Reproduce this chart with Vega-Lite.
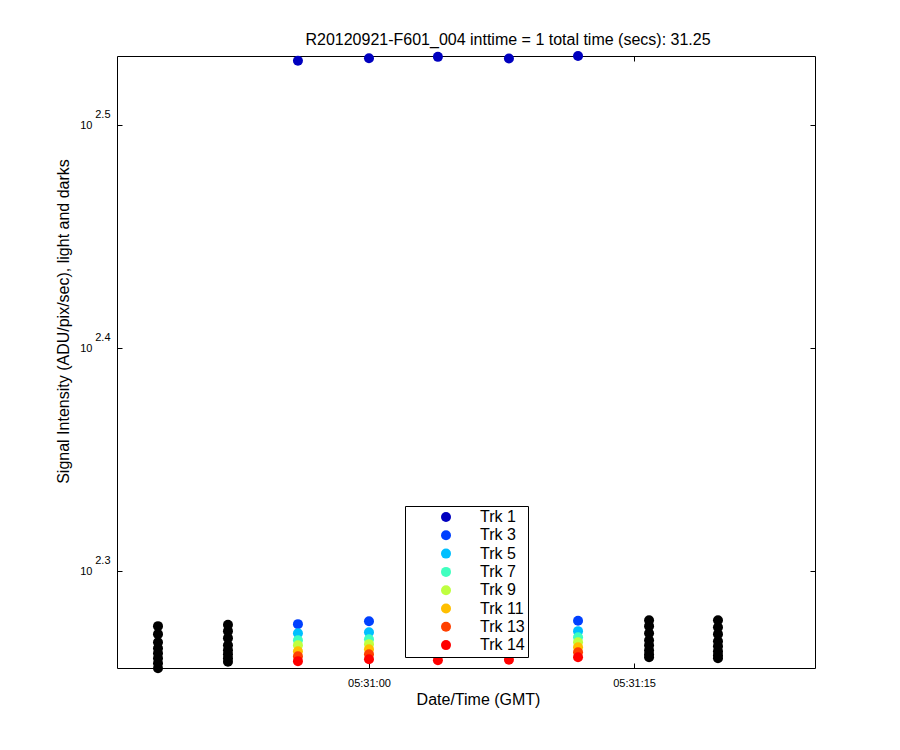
{
  "$schema": "https://vega.github.io/schema/vega-lite/v6.json",
  "width": 698,
  "height": 612,
  "autosize": {"type": "none"},
  "padding": {"left": 117, "top": 56, "right": 85, "bottom": 82},
  "background": "white",
  "config": {
    "font": "Liberation Sans",
    "view": {"stroke": "black", "strokeWidth": 1},
    "axis": {"grid": false, "domain": false, "tickColor": "black", "labelColor": "black", "titleColor": "black", "titleFontWeight": "normal"}
  },
  "title": {
    "text": "R20120921-F601_004 inttime = 1 total time (secs): 31.25",
    "fontSize": 16,
    "fontWeight": "normal",
    "font": "Liberation Sans",
    "color": "black",
    "anchor": "middle",
    "dx": 42,
    "offset": 3
  },
  "data": {
    "values": [
      {"time": "2012-09-21T05:30:48.060Z", "series": "Dark", "signal": 188.52},
      {"time": "2012-09-21T05:30:48.060Z", "series": "Dark", "signal": 186.97},
      {"time": "2012-09-21T05:30:48.060Z", "series": "Dark", "signal": 185.43},
      {"time": "2012-09-21T05:30:48.060Z", "series": "Dark", "signal": 184.28},
      {"time": "2012-09-21T05:30:48.060Z", "series": "Dark", "signal": 183.33},
      {"time": "2012-09-21T05:30:48.060Z", "series": "Dark", "signal": 182.39},
      {"time": "2012-09-21T05:30:48.060Z", "series": "Dark", "signal": 181.45},
      {"time": "2012-09-21T05:30:48.060Z", "series": "Dark", "signal": 180.52},
      {"time": "2012-09-21T05:30:52.020Z", "series": "Dark", "signal": 188.81},
      {"time": "2012-09-21T05:30:52.020Z", "series": "Dark", "signal": 187.55},
      {"time": "2012-09-21T05:30:52.020Z", "series": "Dark", "signal": 186.2},
      {"time": "2012-09-21T05:30:52.020Z", "series": "Dark", "signal": 184.85},
      {"time": "2012-09-21T05:30:52.020Z", "series": "Dark", "signal": 183.9},
      {"time": "2012-09-21T05:30:52.020Z", "series": "Dark", "signal": 183.14},
      {"time": "2012-09-21T05:30:52.020Z", "series": "Dark", "signal": 182.39},
      {"time": "2012-09-21T05:30:52.020Z", "series": "Dark", "signal": 181.73},
      {"time": "2012-09-21T05:30:55.980Z", "series": "Trk 1", "signal": 337.97},
      {"time": "2012-09-21T05:30:55.980Z", "series": "Trk 3", "signal": 188.91},
      {"time": "2012-09-21T05:30:55.980Z", "series": "Trk 5", "signal": 187.16},
      {"time": "2012-09-21T05:30:55.980Z", "series": "Trk 7", "signal": 185.81},
      {"time": "2012-09-21T05:30:55.980Z", "series": "Trk 9", "signal": 184.85},
      {"time": "2012-09-21T05:30:55.980Z", "series": "Trk 11", "signal": 183.71},
      {"time": "2012-09-21T05:30:55.980Z", "series": "Trk 13", "signal": 182.77},
      {"time": "2012-09-21T05:30:55.980Z", "series": "Trk 14", "signal": 181.83},
      {"time": "2012-09-21T05:31:00.000Z", "series": "Trk 1", "signal": 338.8},
      {"time": "2012-09-21T05:31:00.000Z", "series": "Trk 3", "signal": 189.49},
      {"time": "2012-09-21T05:31:00.000Z", "series": "Trk 5", "signal": 187.35},
      {"time": "2012-09-21T05:31:00.000Z", "series": "Trk 7", "signal": 186.0},
      {"time": "2012-09-21T05:31:00.000Z", "series": "Trk 9", "signal": 185.05},
      {"time": "2012-09-21T05:31:00.000Z", "series": "Trk 11", "signal": 184.09},
      {"time": "2012-09-21T05:31:00.000Z", "series": "Trk 13", "signal": 183.14},
      {"time": "2012-09-21T05:31:00.000Z", "series": "Trk 14", "signal": 182.2},
      {"time": "2012-09-21T05:31:03.900Z", "series": "Trk 1", "signal": 339.3},
      {"time": "2012-09-21T05:31:03.900Z", "series": "Trk 3", "signal": 189.49},
      {"time": "2012-09-21T05:31:03.900Z", "series": "Trk 5", "signal": 187.35},
      {"time": "2012-09-21T05:31:03.900Z", "series": "Trk 7", "signal": 186.0},
      {"time": "2012-09-21T05:31:03.900Z", "series": "Trk 9", "signal": 185.05},
      {"time": "2012-09-21T05:31:03.900Z", "series": "Trk 11", "signal": 184.09},
      {"time": "2012-09-21T05:31:03.900Z", "series": "Trk 13", "signal": 183.14},
      {"time": "2012-09-21T05:31:03.900Z", "series": "Trk 14", "signal": 182.01},
      {"time": "2012-09-21T05:31:07.920Z", "series": "Trk 1", "signal": 338.7},
      {"time": "2012-09-21T05:31:07.920Z", "series": "Trk 3", "signal": 189.49},
      {"time": "2012-09-21T05:31:07.920Z", "series": "Trk 5", "signal": 187.35},
      {"time": "2012-09-21T05:31:07.920Z", "series": "Trk 7", "signal": 186.0},
      {"time": "2012-09-21T05:31:07.920Z", "series": "Trk 9", "signal": 185.05},
      {"time": "2012-09-21T05:31:07.920Z", "series": "Trk 11", "signal": 184.09},
      {"time": "2012-09-21T05:31:07.920Z", "series": "Trk 13", "signal": 183.14},
      {"time": "2012-09-21T05:31:07.920Z", "series": "Trk 14", "signal": 182.1},
      {"time": "2012-09-21T05:31:11.830Z", "series": "Trk 1", "signal": 339.6},
      {"time": "2012-09-21T05:31:11.830Z", "series": "Trk 3", "signal": 189.59},
      {"time": "2012-09-21T05:31:11.830Z", "series": "Trk 5", "signal": 187.55},
      {"time": "2012-09-21T05:31:11.830Z", "series": "Trk 7", "signal": 186.39},
      {"time": "2012-09-21T05:31:11.830Z", "series": "Trk 9", "signal": 185.43},
      {"time": "2012-09-21T05:31:11.830Z", "series": "Trk 11", "signal": 184.47},
      {"time": "2012-09-21T05:31:11.830Z", "series": "Trk 13", "signal": 183.52},
      {"time": "2012-09-21T05:31:11.830Z", "series": "Trk 14", "signal": 182.58},
      {"time": "2012-09-21T05:31:15.850Z", "series": "Dark", "signal": 189.69},
      {"time": "2012-09-21T05:31:15.850Z", "series": "Dark", "signal": 188.52},
      {"time": "2012-09-21T05:31:15.850Z", "series": "Dark", "signal": 187.16},
      {"time": "2012-09-21T05:31:15.850Z", "series": "Dark", "signal": 185.81},
      {"time": "2012-09-21T05:31:15.850Z", "series": "Dark", "signal": 184.85},
      {"time": "2012-09-21T05:31:15.850Z", "series": "Dark", "signal": 183.9},
      {"time": "2012-09-21T05:31:15.850Z", "series": "Dark", "signal": 183.14},
      {"time": "2012-09-21T05:31:15.850Z", "series": "Dark", "signal": 182.58},
      {"time": "2012-09-21T05:31:19.750Z", "series": "Dark", "signal": 189.69},
      {"time": "2012-09-21T05:31:19.750Z", "series": "Dark", "signal": 188.32},
      {"time": "2012-09-21T05:31:19.750Z", "series": "Dark", "signal": 186.97},
      {"time": "2012-09-21T05:31:19.750Z", "series": "Dark", "signal": 185.62},
      {"time": "2012-09-21T05:31:19.750Z", "series": "Dark", "signal": 184.66},
      {"time": "2012-09-21T05:31:19.750Z", "series": "Dark", "signal": 183.71},
      {"time": "2012-09-21T05:31:19.750Z", "series": "Dark", "signal": 182.96},
      {"time": "2012-09-21T05:31:19.750Z", "series": "Dark", "signal": 182.39}
    ]
  },
  "resolve": {"axis": {"x": "independent", "y": "independent"}},
  "layer": [
    {
      "mark": {"type": "circle", "size": 100, "opacity": 1},
      "encoding": {
        "x": {
          "field": "time", "type": "temporal",
          "scale": {"type": "utc", "domain": [
            {"year": 2012, "month": 9, "date": 21, "hours": 5, "minutes": 30, "seconds": 45, "milliseconds": 740, "utc": true},
            {"year": 2012, "month": 9, "date": 21, "hours": 5, "minutes": 31, "seconds": 25, "milliseconds": 240, "utc": true}
          ]},
          "axis": {
            "orient": "bottom",
            "values": [
              {"year": 2012, "month": 9, "date": 21, "hours": 5, "minutes": 31, "seconds": 0, "utc": true},
              {"year": 2012, "month": 9, "date": 21, "hours": 5, "minutes": 31, "seconds": 15, "utc": true}
            ],
            "labelExpr": "utcFormat(datum.value, '%H:%M:%S')",
            "tickSize": -5,
            "labelPadding": 14,
            "labelFontSize": 11,
            "labelAngle": 0,
            "title": "Date/Time (GMT)",
            "titleFontSize": 16,
            "titleBaseline": "middle",
            "titleX": 361,
            "titleY": 31
          }
        },
        "y": {
          "field": "signal", "type": "quantitative",
          "scale": {"type": "log", "domain": [180.55, 339.6], "nice": false, "zero": false},
          "axis": {
            "orient": "left",
            "values": [199.526, 251.189, 316.228],
            "labelExpr": "'10'",
            "tickSize": -5,
            "labelPadding": 30,
            "labelFontSize": 11,
            "labelBaseline": "middle",
            "title": "Signal Intensity (ADU/pix/sec), light and darks",
            "titleFontSize": 16,
            "titleBaseline": "middle",
            "titleX": -54,
            "titleY": 265
          }
        },
        "color": {
          "field": "series", "type": "nominal",
          "scale": {
            "domain": ["Trk 1", "Trk 3", "Trk 5", "Trk 7", "Trk 9", "Trk 11", "Trk 13", "Trk 14", "Dark"],
            "range": ["#0000BF", "#0040FF", "#00BFFF", "#40FFBF", "#BFFF40", "#FFBF00", "#FF4000", "#FF0000", "#000000"]
          },
          "legend": {
            "values": ["Trk 1", "Trk 3", "Trk 5", "Trk 7", "Trk 9", "Trk 11", "Trk 13", "Trk 14"],
            "title": null,
            "orient": "none",
            "legendX": 288,
            "legendY": 450,
            "fillColor": "white",
            "strokeColor": "black",
            "padding": 3,
            "symbolType": "circle",
            "symbolSize": 100,
            "symbolStrokeWidth": 0,
            "symbolOpacity": 1,
            "symbolOffset": 30,
            "labelOffset": 26,
            "labelFontSize": 16,
            "labelColor": "black",
            "rowPadding": 2.3
          }
        }
      }
    },
    {
      "mark": {"type": "circle", "size": 100, "opacity": 0},
      "encoding": {
        "x": {
          "field": "time", "type": "temporal",
          "axis": {
            "orient": "top",
            "values": [
              {"year": 2012, "month": 9, "date": 21, "hours": 5, "minutes": 31, "seconds": 0, "utc": true},
              {"year": 2012, "month": 9, "date": 21, "hours": 5, "minutes": 31, "seconds": 15, "utc": true}
            ],
            "labels": false,
            "tickSize": -5,
            "title": null
          }
        },
        "y": {
          "field": "signal", "type": "quantitative",
          "axis": {
            "orient": "right",
            "values": [199.526, 251.189, 316.228],
            "labels": false,
            "tickSize": -5,
            "title": null
          }
        }
      }
    },
    {
      "mark": {"type": "circle", "size": 100, "opacity": 0},
      "encoding": {
        "x": {"field": "time", "type": "temporal", "axis": null},
        "y": {
          "field": "signal", "type": "quantitative",
          "axis": {
            "orient": "left",
            "values": [199.526, 251.189, 316.228],
            "labelExpr": "format(log(datum.value) / LN10, '.1f')",
            "ticks": false,
            "labelPadding": 7,
            "labelOffset": -11,
            "labelFontSize": 11,
            "labelBaseline": "middle",
            "title": null
          }
        }
      }
    }
  ]
}
